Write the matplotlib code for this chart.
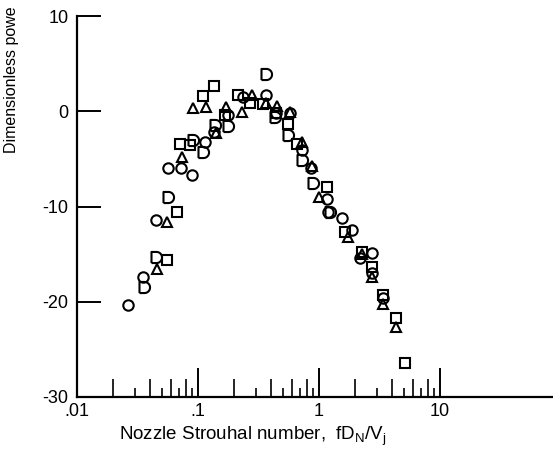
"""Nozzle Strouhal number spectrum - scatter of four configurations"""
import matplotlib
matplotlib.use('Agg')
import matplotlib.pyplot as plt
import numpy as np
from matplotlib.path import Path
from matplotlib.ticker import FixedLocator, NullFormatter, NullLocator

plt.rcParams['font.family'] = ['Liberation Sans', 'DejaVu Sans']
plt.rcParams['axes.unicode_minus'] = False

# data
circle_x = [0.0264, 0.0351, 0.045, 0.0565, 0.0724, 0.0891, 0.114, 0.136, 0.177,
            0.236, 0.365, 0.441, 0.576, 0.724, 0.859, 1.16, 1.19, 1.55, 1.87,
            2.18, 2.74, 2.74, 3.38]
circle_y = [-20.3, -17.4, -11.4, -6.0, -6.0, -6.7, -3.2, -2.2, -0.4,
            1.5, 1.7, -0.2, -0.2, -4.1, -6.0, -9.2, -10.6, -11.2, -12.5,
            -15.4, -14.9, -17.0, -19.6]

square_x = [0.0554, 0.067, 0.071, 0.0859, 0.110, 0.136, 0.167, 0.214, 0.269,
            0.344, 0.441, 0.554, 0.658, 1.16, 1.64, 2.26, 2.74, 3.38, 4.33, 5.14]
square_y = [-15.6, -10.6, -3.4, -3.5, 1.6, 2.6, -0.4, 1.7, 0.9,
            0.8, -0.2, -1.3, -3.4, -7.9, -12.7, -14.8, -16.4, -19.3, -21.7, -26.4]

triangle_x = [0.0458, 0.0554, 0.0738, 0.091, 0.116, 0.141, 0.170, 0.231, 0.279,
              0.365, 0.450, 0.576, 0.724, 0.875, 1.0, 1.74, 2.26, 2.74, 3.38, 4.33]
triangle_y = [-16.6, -11.6, -4.8, 0.3, 0.4, -2.3, 0.4, -0.1, 1.7,
              0.9, 0.6, -0.1, -3.2, -5.8, -9.0, -13.2, -15.0, -17.4, -20.2, -22.7]

dee_x = [0.0358, 0.045, 0.0565, 0.091, 0.110, 0.138, 0.177, 0.365, 0.433,
         0.554, 0.724, 0.891, 1.23]
dee_y = [-18.5, -15.3, -9.0, -3.0, -4.3, -1.4, -1.5, 3.9, -0.6,
         -2.5, -5.1, -7.5, -10.6]

decades = [0.01, 0.1, 1, 10]
decade_labels = ['.01', '.1', '1', '10']
even_minor = [m * d for d in [0.01, 0.1, 1] for m in (2, 4, 6, 8)]
odd_minor = [m * d for d in [0.01, 0.1, 1] for m in (3, 5, 7, 9)]
y_ticks = [-30, -20, -10, 0, 10]

# "D" shaped marker: straight left side, round right side
theta = np.linspace(np.pi / 2, -np.pi / 2, 20)
verts = [(-0.9, -1.0), (-0.9, 1.0), (0.0, 1.0)]
verts += list(zip(np.cos(theta), np.sin(theta)))
verts += [(-0.9, -1.0)]
dee_marker = Path(verts, [Path.MOVETO] + [Path.LINETO] * (len(verts) - 1))

fig = plt.figure(figsize=(5.53, 4.55), dpi=100)
ax = fig.add_axes([0.1392, 0.1275, 0.8608, 0.8373])

style = dict(linestyle='none', markerfacecolor='none', markeredgecolor='black',
             markeredgewidth=1.5, clip_on=False)
ax.plot(circle_x, circle_y, marker='o', markersize=7.5, **style)
ax.plot(square_x, square_y, marker='s', markersize=7.5, **style)
ax.plot(triangle_x, triangle_y, marker='^', markersize=7, **style)
ax.plot(dee_x, dee_y, marker=dee_marker, markersize=8, **style)

ax.set_xscale('log')
ax.set_xlim(0.01, 10 ** (476 / 121 - 2))
ax.set_ylim(-30, 10)

for side in ('top', 'right'):
    ax.spines[side].set_visible(False)
ax.spines['left'].set_linewidth(1.6)
ax.spines['bottom'].set_linewidth(1.6)

ax.xaxis.set_major_locator(FixedLocator(decades))
ax.set_xticklabels(decade_labels)
ax.xaxis.set_minor_locator(FixedLocator(even_minor))
ax.xaxis.set_minor_formatter(NullFormatter())
ax.tick_params(axis='x', which='major', direction='in', length=21, width=1.4,
               labelsize=13, pad=4)
ax.tick_params(axis='x', which='minor', direction='in', length=13, width=1.2)

ax.set_yticks(y_ticks)
ax.tick_params(axis='y', which='major', direction='in', length=17, width=1.4,
               labelsize=13, pad=6)
ax.yaxis.set_minor_locator(NullLocator())

# short ticks at odd multiples on a twin axis
ax2 = ax.twiny()
ax2.set_xscale('log')
ax2.set_xlim(ax.get_xlim())
ax2.xaxis.set_major_locator(FixedLocator(odd_minor))
ax2.xaxis.set_minor_locator(NullLocator())
ax2.xaxis.set_major_formatter(NullFormatter())
ax2.tick_params(axis='x', which='major', direction='in', length=6.5, width=1.2,
                top=False, bottom=True, labeltop=False)
for side in ('top', 'right', 'left', 'bottom'):
    ax2.spines[side].set_visible(False)

ax.set_xlabel('Nozzle Strouhal number,  fD$_\\mathregular{N}$/V$_\\mathregular{j}$',
              fontsize=13.5)
ax.xaxis.set_label_coords(0.37, -0.072)
fig.text(0.02, 1 - 153 / 455, 'Dimensionless powe', rotation=90,
         ha='center', va='bottom', fontsize=11.5)

fig.savefig('out.png', dpi=100)
